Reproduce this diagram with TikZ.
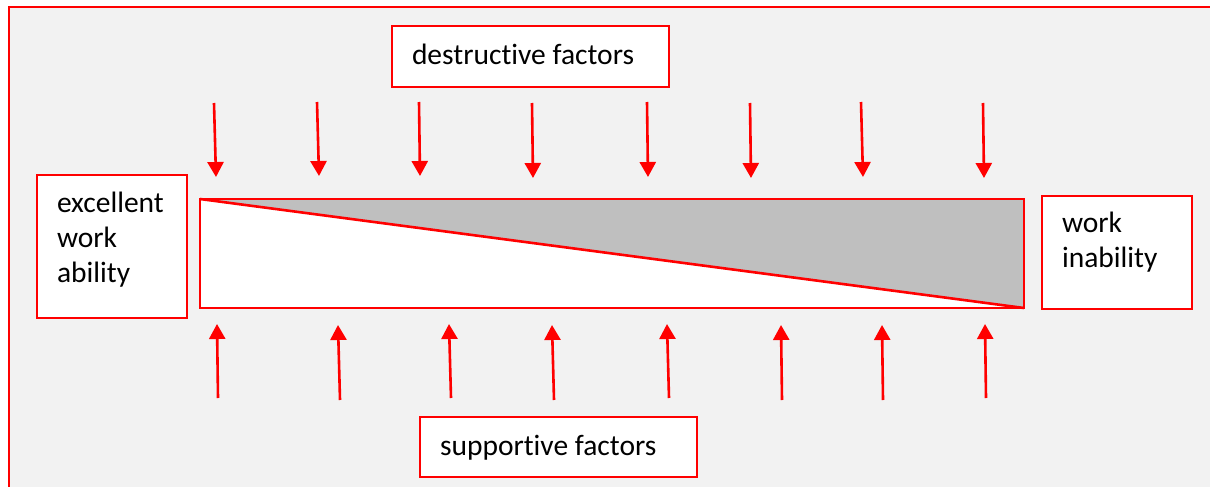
\documentclass[tikz,border=0pt]{standalone}
\usepackage{fontspec}
\setmainfont{Carlito}[RawFeature=-liga]
\usetikzlibrary{arrows.meta,positioning,calc}
\definecolor{panel}{HTML}{F2F2F2}
\definecolor{loss}{HTML}{BFBFBF}
\begin{document}
\begin{tikzpicture}[
  x=1pt,y=-1pt,
  every node/.style={font=\fontsize{29.5}{35}\selectfont},
  frame/.style={draw=red,line width=2.6pt,fill=panel},
  factor/.style={draw=red,line width=2.8pt,fill=white,anchor=north west,
    align=flush left,inner xsep=20pt,inner ysep=0pt,outer sep=0pt},
  bar/.style={draw=red,line width=2.6pt},
  push/.style={-{Triangle[width=16pt,length=15pt]},red,line width=2.6pt}]

  \clip (0,0) rectangle (1210,487);
  \fill[white] (0,0) rectangle (1210,487);
  \draw[frame] (9,7) rectangle (1225,500);

  % Kaestchen
  \node[factor,text width=237pt,text height=38pt,text depth=23pt]
    (destructive) at (392,26) {destructive factors};
  \node[factor,text width=237pt,text height=38pt,text depth=22pt]
    (supportive) at (420,417) {supportive factors};
  \node[factor,text width=110pt,text height=37pt,text depth=106pt]
    (excellent) at (37,175) {excellent\\ work\\ ability};
  \node[factor,text width=110pt,text height=36pt,text depth=77pt]
    (inability) at (1042,196) {work\\ inability};

  % Balken
  \coordinate (barNW) at (200,199);
  \coordinate (barNE) at (1024,199);
  \coordinate (barSE) at (1024,308);
  \coordinate (barSW) at (200,308);
  \fill[white] (barNW) rectangle (barSE);
  \fill[loss] (barNW) -- (barNE) -- (barSE) -- cycle;
  \draw[bar] (barNW) -- (barSE);
  \draw[bar] (barNW) rectangle (barSE);

  % Pfeile oben
  \foreach \i/\ax/\ay/\bx/\by in {1/214/103/216/177, 2/317/102/319/176,
      3/419/102/420/176, 4/532/103/533/178, 5/647/102/648/177,
      6/750/103/751/178, 7/861/102/863/177, 8/983/103/984/178}{
    \coordinate (down\i) at (\ax,\ay);
    \coordinate (hit\i) at (\bx,\by);
    \draw[push] (down\i) -- (hit\i);
  }

  % Pfeile unten
  \foreach \i/\ax/\ay/\bx/\by in {1/218/398/217/324, 2/340/400/338/325,
      3/451/398/449/324, 4/554/400/552/325, 5/669/398/667/324,
      6/782/400/781/325, 7/883/400/882/325, 8/986/398/985/324}{
    \coordinate (up\i) at (\ax,\ay);
    \coordinate (lift\i) at (\bx,\by);
    \draw[push] (up\i) -- (lift\i);
  }

\end{tikzpicture}
\end{document}
